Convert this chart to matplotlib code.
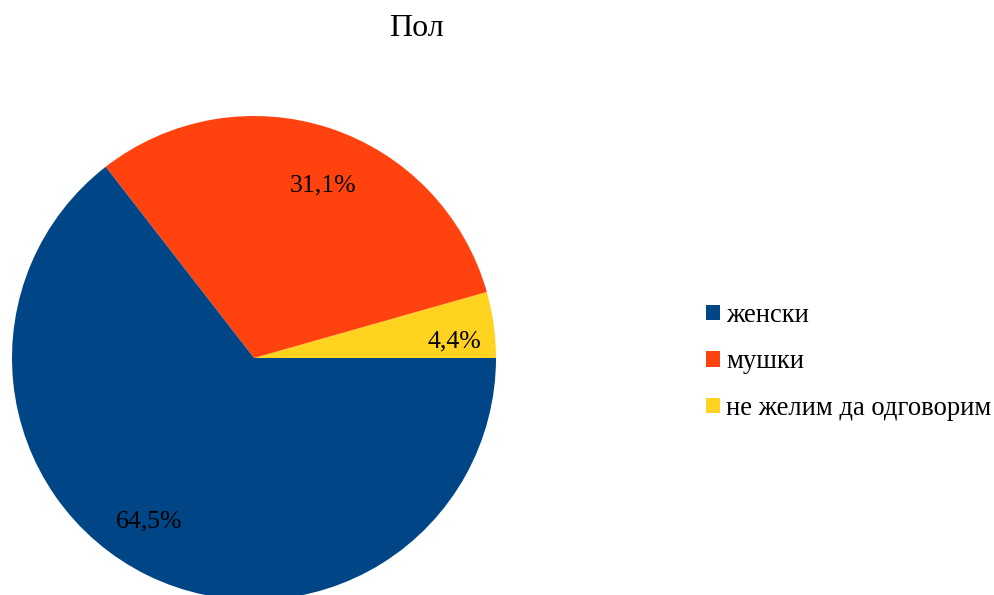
import matplotlib.pyplot as plt

labels = ["женски", "мушки", "не желим да одговорим"]
shares = [64.5, 31.1, 4.4]
colors = ["#004586", "#ff420e", "#ffd320"]

plt.rcParams["font.family"] = ["Liberation Serif", "DejaVu Serif"]

W, H = 995, 595
fig = plt.figure(figsize=(W / 100, H / 100), dpi=100)

# pie: centre (254, 358) px, radius 242 px
cx, cy, r = 254, H - 358, 242
ax = fig.add_axes([(cx - r) / W, (cy - r) / H, 2 * r / W, 2 * r / H])

# order drawn counter-clockwise from 0 deg: yellow, orange, blue
order = [2, 1, 0]
wedges, texts, autotexts = ax.pie(
    [shares[i] for i in order],
    colors=[colors[i] for i in order],
    startangle=0,
    counterclock=True,
    radius=1,
    autopct=lambda p: f"{p:.1f}%".replace(".", ","),
    pctdistance=0.8,
    textprops={"fontsize": 18.5, "color": "black"},
    wedgeprops={"linewidth": 0},
)
ax.set_xlim(-1, 1)
ax.set_ylim(-1, 1)
ax.set_aspect("auto")
for w in wedges:
    w.set_clip_on(False)

# small nudges of the value labels (in pixels) to match label placement
px = 2 / (2 * r)
nudges = [(9, -10), (9, -11), (-20, 10)]
for t, (dx, dy) in zip(autotexts, nudges):
    x, y = t.get_position()
    t.set_position((x + dx * px, y + dy * px))

fig.text(417 / W, 1 - 28 / H, "Пол", ha="center", va="center", fontsize=23)

handles = [wedges[order.index(i)] for i in range(3)]
fig.legend(handles, labels, loc="center left", bbox_to_anchor=(682 / W, 1 - 362 / H),
           frameon=False, fontsize=19.2, handlelength=0.52, handleheight=0.52,
           handletextpad=0.24, labelspacing=0.8)

fig.savefig("out.png", dpi=100)
